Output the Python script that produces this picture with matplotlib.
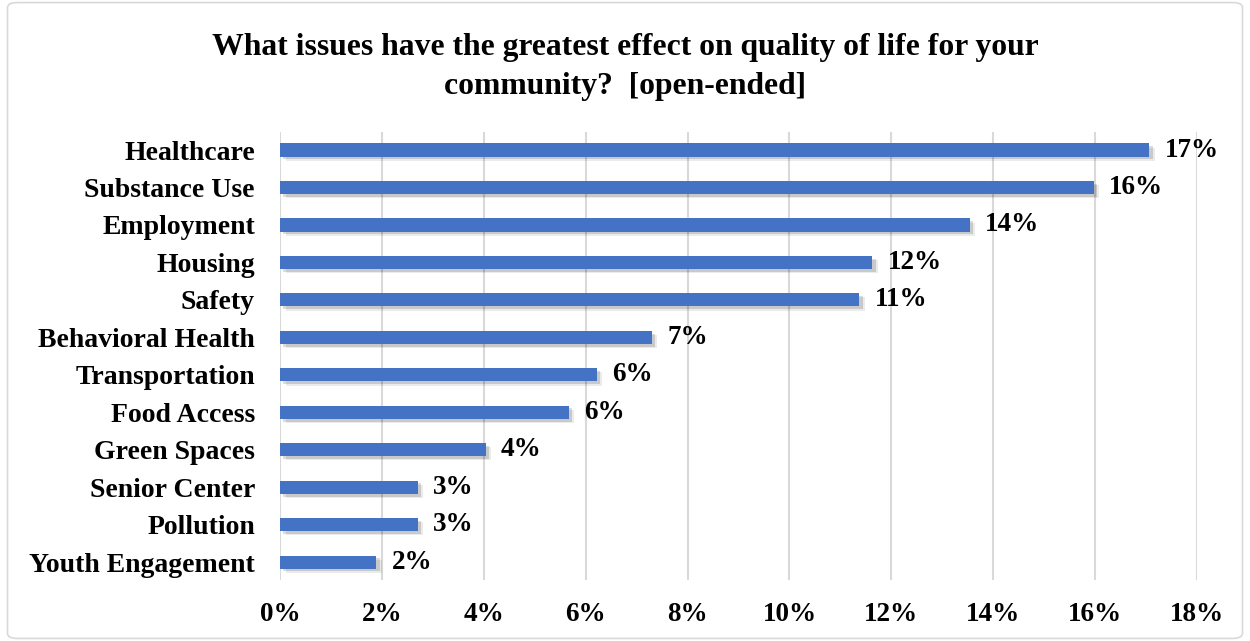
import matplotlib.pyplot as plt
import matplotlib.patheffects as pe
from matplotlib.patches import FancyBboxPatch
from matplotlib.ticker import FuncFormatter

# === DADOS ===
categorias = ["Healthcare", "Substance Use", "Employment", "Housing", "Safety",
              "Behavioral Health", "Transportation", "Food Access", "Green Spaces",
              "Senior Center", "Pollution", "Youth Engagement"]
valores = [17.06, 15.97, 13.54, 11.63, 11.37, 7.30, 6.22, 5.67, 4.04, 2.70, 2.70, 1.89]
rotulos = ["17%", "16%", "14%", "12%", "11%", "7%", "6%", "6%", "4%", "3%", "3%", "2%"]
ticks_x = [0, 2, 4, 6, 8, 10, 12, 14, 16, 18]

titulo = "What issues have the greatest effect on quality of life for your\ncommunity?  [open-ended]"

plt.rcParams["font.family"] = ["Liberation Serif", "DejaVu Serif"]
plt.rcParams["font.weight"] = "bold"

fig = plt.figure(figsize=(12.5, 6.41), dpi=100)
ax = fig.add_axes([0.224, 0.095, 0.7336, 0.699])

# borda externa do grafico
borda = FancyBboxPatch((0.006, 0.004), 0.988, 0.992, boxstyle="round,pad=0,rounding_size=0.008",
                       transform=fig.transFigure, fill=False, edgecolor="#d9d9d9", linewidth=1.2)
fig.patches.append(borda)

y = list(range(len(categorias)))
sombra = [pe.SimplePatchShadow(offset=(4, -3), shadow_rgbFace="#000000", alpha=0.08),
          pe.SimplePatchShadow(offset=(2.5, -2), shadow_rgbFace="#000000", alpha=0.14),
          pe.Normal()]
barras = ax.barh(y, valores, height=0.35, color="#4472C4", zorder=3)
for b in barras:
    b.set_path_effects(sombra)

for yi, v, r in zip(y, valores, rotulos):
    ax.text(v + 0.3, yi, r, va="center", ha="left", fontsize=19.5, fontweight="bold", zorder=4)

ax.set_yticks(y)
ax.set_yticklabels(categorias, fontsize=20, fontweight="bold")
ax.set_ylim(len(categorias) - 0.52, -0.48)

ax.set_xlim(0, 18)
ax.set_xticks(ticks_x)
ax.xaxis.set_major_formatter(FuncFormatter(lambda v, p: f"{v:.0f}%"))
for t in ax.get_xticklabels():
    t.set_fontsize(19.5)
    t.set_fontweight("bold")

ax.grid(axis="x", color="#d9d9d9", linewidth=1.5, zorder=0)
ax.tick_params(axis="both", length=0)
ax.tick_params(axis="y", pad=18)
ax.tick_params(axis="x", pad=16)
for s in ax.spines.values():
    s.set_visible(False)

fig.text(0.5, 0.948, titulo, ha="center", va="top", fontsize=22.8, fontweight="bold",
         linespacing=1.43)

fig.savefig("out.png", dpi=100)
